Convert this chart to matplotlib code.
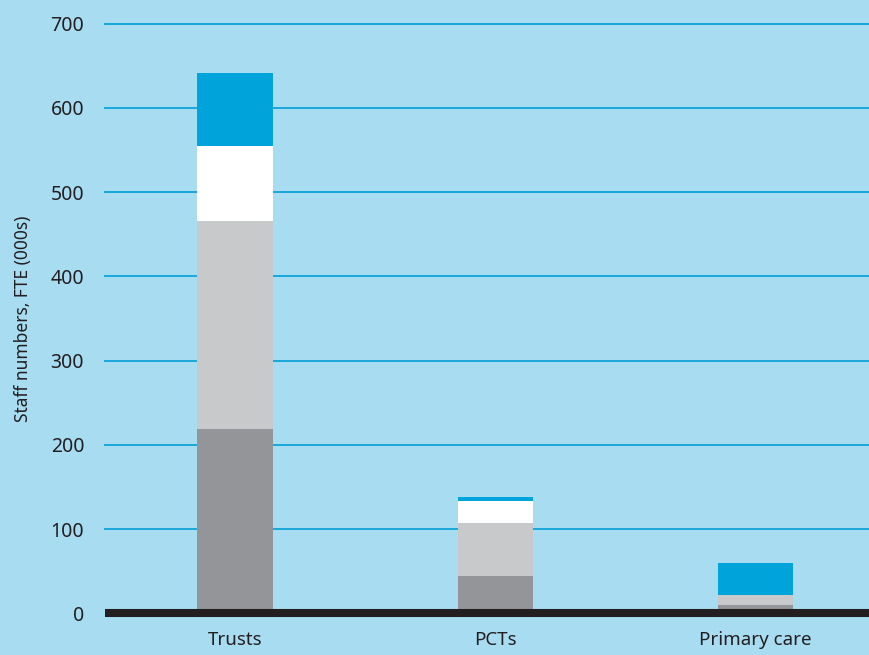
import matplotlib
matplotlib.use("Agg")
import matplotlib.pyplot as plt
import numpy as np

categories = ["Trusts", "PCTs", "Primary care"]
seg_dark = [219, 44, 10]
seg_light = [247, 63, 12]
seg_white = [89, 26, 0]
seg_blue = [86, 5, 38]
yticks = [0, 100, 200, 300, 400, 500, 600, 700]

bg = "#a8dcf0"
colors = ["#939598", "#c8c9cb", "#ffffff", "#00a3da"]

plt.rcParams["font.family"] = ["Noto Sans", "DejaVu Sans"]

fig = plt.figure(figsize=(8.7, 6.55), dpi=100)
fig.patch.set_facecolor(bg)
ax = fig.add_axes([105 / 870, (655 - 613.3) / 655, 1 - 105 / 870, (613.3 - 23.5) / 655])
ax.set_facecolor(bg)

x = np.arange(len(categories))
width = 0.29
bottom = np.zeros(len(categories))
for vals, c in zip([seg_dark, seg_light, seg_white, seg_blue], colors):
    vals = np.array(vals, dtype=float)
    ax.bar(x, vals, width, bottom=bottom, color=c, zorder=3, linewidth=0)
    bottom += vals

ax.set_ylim(0, 700)
ax.set_xlim(-0.5, 2.44)
ax.set_yticks(yticks)
ax.set_yticklabels([str(v) for v in yticks], fontsize=14, color="#231f20")
ax.set_xticks(x)
ax.set_xticklabels(categories, fontsize=13.5, color="#231f20")
ax.tick_params(axis="y", length=0, pad=15)
ax.tick_params(axis="x", length=0, pad=13)

for v in yticks[1:]:
    ax.axhline(v, color="#1aa7dc", linewidth=1.4, zorder=1, clip_on=False)
ax.axhline(0, color="#231f20", linewidth=5.8, zorder=4, clip_on=False,
           solid_capstyle="butt")

for s in ax.spines.values():
    s.set_visible(False)

ax.set_ylabel("Staff numbers, FTE (000s)", fontsize=12.5, color="#231f20", labelpad=13)

fig.savefig("out.png", dpi=100, facecolor=bg)
